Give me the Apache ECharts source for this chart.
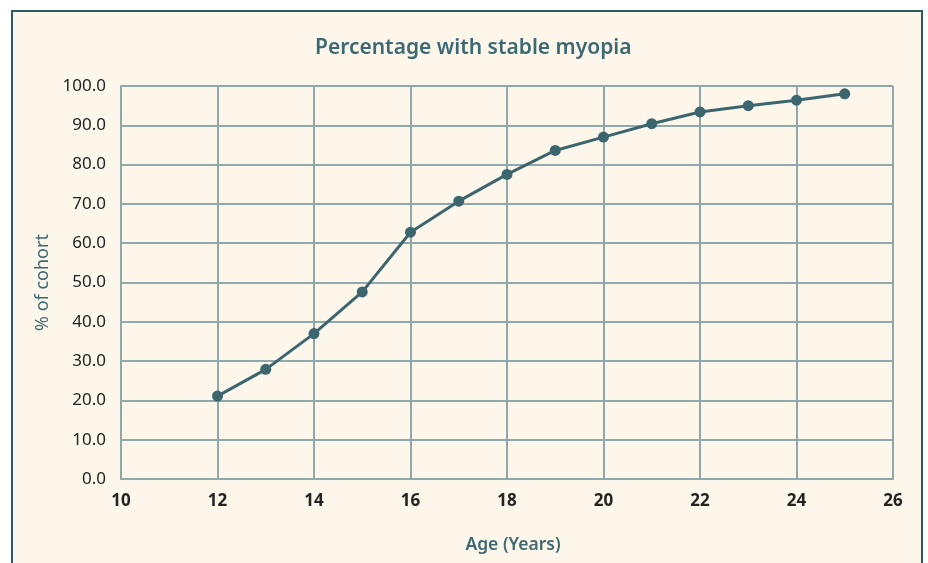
<!DOCTYPE html>
<html>
<head>
<meta charset="utf-8">
<script src="https://cdn.jsdelivr.net/npm/echarts@6/dist/echarts.min.js"></script>
<style>
  html, body { margin: 0; padding: 0; background: #ffffff; width: 928px; height: 563px; overflow: hidden; }
  #frame { position: absolute; left: 11px; top: 10px; width: 912px; height: 570px;
           border: 2px solid #2f5a61; background: #fdf6eb; box-sizing: border-box; }
  #chart { position: absolute; left: 0; top: 0; width: 928px; height: 563px; }
</style>
</head>
<body>
<div id="frame"></div>
<div id="chart"></div>
<script>
// Age (years) and share of the cohort whose myopia has stabilised
const ages = [12, 13, 14, 15, 16, 17, 18, 19, 20, 21, 22, 23, 24, 25];
const stablePct = [21.1, 27.9, 37.0, 47.6, 62.8, 70.7, 77.5, 83.6, 87.0, 90.4, 93.4, 95.0, 96.4, 98.0];

const teal = '#3b666e';
const gridColor = '#8ea8ac';

const chart = echarts.init(document.getElementById('chart'), null, { renderer: 'canvas' });
chart.setOption({
  backgroundColor: 'transparent',
  animation: false,
  title: {
    text: 'Percentage with stable myopia',
    left: 310,
    top: 33,
    textStyle: { fontFamily: 'Noto Sans', fontWeight: 600, fontSize: 21, color: '#3d6a72' }
  },
  grid: { left: 121, right: 35, top: 86, bottom: 84 },
  xAxis: {
    type: 'value',
    min: 10, max: 26, interval: 2,
    name: 'Age (Years)',
    nameLocation: 'middle',
    nameGap: 57,
    nameTextStyle: { fontFamily: 'Noto Sans', fontWeight: 600, fontSize: 17.5, color: '#3d6a72', padding: [0, 0, 0, 12] },
    axisLine: { show: true, lineStyle: { color: gridColor, width: 2 } },
    axisTick: { show: false },
    axisLabel: { margin: 14, fontFamily: 'Noto Sans', fontWeight: 'bold', fontSize: 17, color: '#232323' },
    splitLine: { show: true, lineStyle: { color: gridColor, width: 2 } }
  },
  yAxis: {
    type: 'value',
    min: 0, max: 100, interval: 10,
    name: '% of cohort',
    nameLocation: 'middle',
    nameGap: 65,
    nameTextStyle: { fontFamily: 'Noto Sans', fontSize: 18, color: '#3d6a72' },
    axisLine: { show: true, lineStyle: { color: gridColor, width: 2 } },
    axisTick: { show: false },
    axisLabel: {
      margin: 15, fontFamily: 'Noto Sans', fontSize: 17, color: '#232323',
      padding: [0, 0, 4, 0],
      formatter: v => v.toFixed(1)
    },
    splitLine: { show: true, lineStyle: { color: gridColor, width: 2 } }
  },
  series: [{
    type: 'line',
    data: ages.map((a, i) => [a, stablePct[i]]),
    symbol: 'circle',
    symbolSize: 11,
    lineStyle: { color: teal, width: 3 },
    itemStyle: { color: teal },
    z: 5
  }]
});
</script>
</body>
</html>
